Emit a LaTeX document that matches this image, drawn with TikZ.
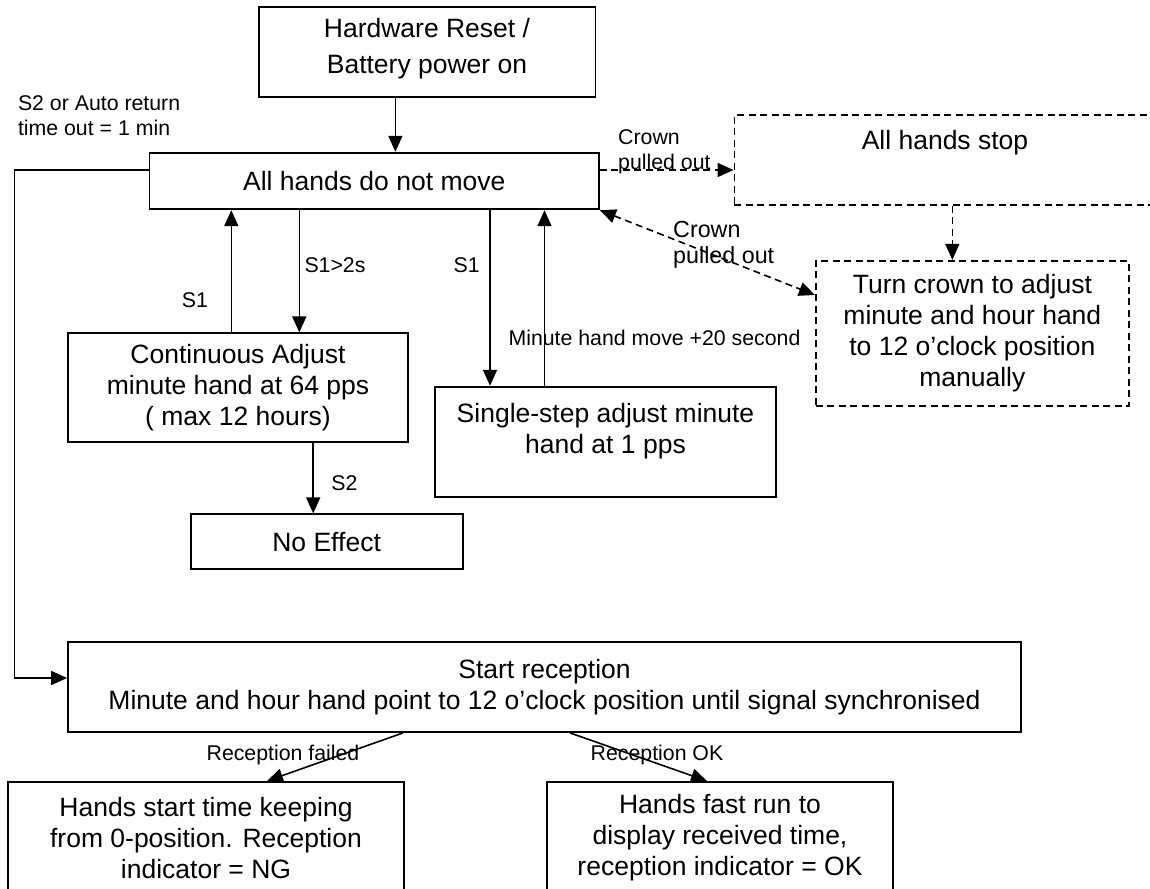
\documentclass[tikz,border=0pt]{standalone}
\usepackage{fontspec}
\setmainfont{Liberation Sans}
\usetikzlibrary{arrows.meta}
\newcommand{\diagmainfont}{\fontsize{26.5pt}{31pt}\selectfont}
\newcommand{\diaglabfont}{\fontsize{21.3pt}{25pt}\selectfont}
\begin{document}
\begin{tikzpicture}[x=1pt,y=-1pt,
  >={Triangle[length=16pt,width=14pt]},
  box/.style={draw, line width=1.8pt, inner sep=0pt, font=\diagmainfont, align=center},
  dbox/.style={box, line width=1.6pt, dash pattern=on 7pt off 4.5pt},
  txt/.style={inner sep=0pt, font=\diagmainfont, align=center},
  lab/.style={inner sep=0pt, font=\diaglabfont, align=center},
  arr/.style={line width=1.6pt, ->},
  darr/.style={arr, dash pattern=on 7pt off 4.5pt},
]
\useasboundingbox (0,0) rectangle (1150,888);
\fill[white] (0,0) rectangle (1150,888);
\clip (0,0) rectangle (1150,888);

% boxes
\node[box, minimum width=336.9pt, minimum height=90.6pt] (reset) at (427.05,52) {};
\node[txt, font=\fontsize{26.5pt}{36pt}\selectfont] (resetT) at (427,49) {Hardware Reset /\\Battery power on};
\node[box, minimum width=449.5pt, minimum height=56.6pt] (allhands) at (374.25,181) {All hands do not move};
\node[dbox, minimum width=425.7pt, minimum height=90pt] (stop) at (947.15,160) {};
\node[txt] (stopT) at (945,143) {All hands stop};
\node[dbox, minimum width=313.3pt, minimum height=145pt] (turn) at (972.35,333.2) {Turn crown to adjust\\minute and hour hand\\to 12 o’clock position\\manually};
\node[box, minimum width=340pt, minimum height=109pt] (cont) at (238,387.8) {Continuous Adjust\\minute hand at 64 pps\\( max 12 hours)};
\node[box, minimum width=272pt, minimum height=54.7pt] (noeff) at (326.6,541.65) {No Effect};
\node[box, minimum width=341pt, minimum height=110pt] (ss) at (605.5,441.7) {};
\node[txt] (ssT) at (605.5,431) {Single-step adjust minute\\hand at 1 pps};
\node[box, minimum width=953pt, minimum height=90pt] (start) at (544.5,687) {Start reception\\Minute and hour hand point to 12 o’clock position until signal synchronised};
\node[box, minimum width=396pt, minimum height=130pt, anchor=north] (fail) at (206,781) {};
\node[txt] (failT) at (206,838) {Hands start time keeping\\from 0-position. Reception\\indicator = NG};
\node[box, minimum width=346pt, minimum height=130pt, anchor=north] (ok) at (720,781) {};
\node[txt] (okT) at (720,838) {Hands fast run to\\display received time,\\reception indicator = OK};

% connectors
\draw[arr] (reset.south -| 395.4,0) -- (allhands.north -| 395.4,0);
\draw[arr] (allhands.west |- 0,170) -| (14.6,678) -- (start.west |- 0,678);
\draw[arr] (allhands.south -| 299.3,0) -- (cont.north -| 299.3,0);
\draw[arr] (cont.north -| 231.3,0) -- (allhands.south -| 231.3,0);
\draw[arr] (cont.south -| 313.2,0) -- (noeff.north -| 313.2,0);
\draw[arr] (allhands.south -| 490,0) -- (ss.north -| 490,0);
\draw[arr] (ss.north -| 544.5,0) -- (allhands.south -| 544.5,0);
\draw[darr] (allhands.east |- 0,170) -- (stop.west |- 0,170);
\draw[darr, <->] (allhands.south east) -- (turn.west |- 0,295);
\draw[darr] (stop.south -| 952.3,0) -- (turn.north -| 952.3,0);
\draw[arr] (start.south -| 403,0) -- (fail.north -| 267,0);
\draw[arr] (start.south -| 570,0) -- (ok.north -| 707,0);

% labels
\node[lab, align=left, anchor=west] (lauto) at (17.8,116) {S2 or Auto return\\time out = 1 min};
\node[lab] (ls1a) at (195,300) {S1};
\node[lab] (ls12) at (335,265) {S1>2s};
\node[lab] (ls1b) at (466.7,265) {S1};
\node[lab] (ls2) at (344.4,483) {S2};
\node[lab] (lmin) at (654.5,338) {Minute hand move +20 second};
\node[lab, align=left, anchor=west, font=\fontsize{21.3pt}{24.5pt}\selectfont] (lcr1) at (618,152) {Crown\\pulled out};
\node[lab, align=left, anchor=west, font=\fontsize{23.3pt}{25.6pt}\selectfont] (lcr2) at (673,245) {Crown\\pulled out};
\node[lab] (lfail) at (283,755) {Reception failed};
\node[lab] (lok) at (657,755) {Reception OK};
\end{tikzpicture}
\end{document}
